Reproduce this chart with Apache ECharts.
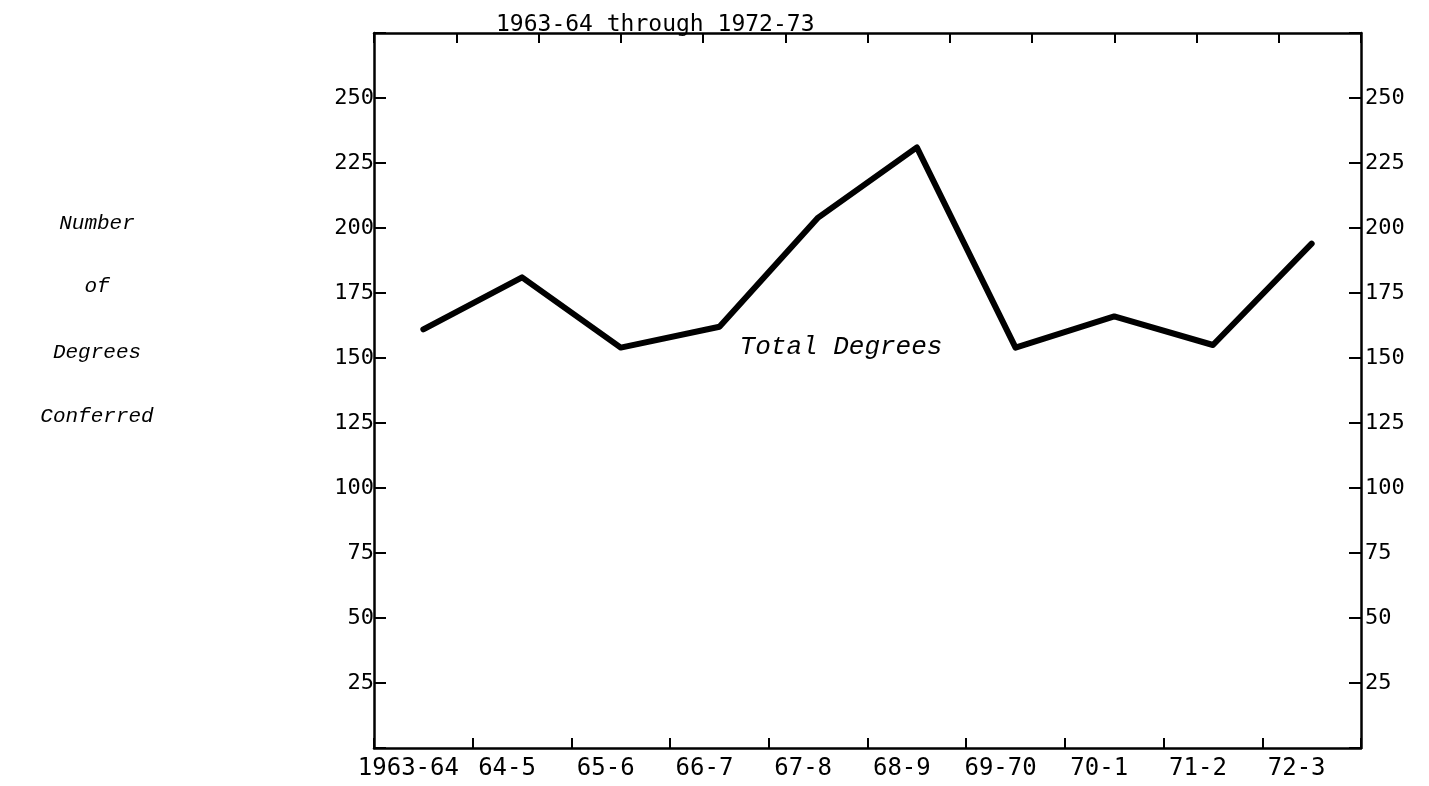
<!DOCTYPE html>
<html>
<head>
<meta charset="utf-8">
<script src="https://cdn.jsdelivr.net/npm/echarts@6/dist/echarts.min.js"></script>
<style>
html,body{margin:0;padding:0;background:#fff;}
#chart{width:1429px;height:786px;}
</style>
</head>
<body>
<div id="chart"></div>
<script>
const categories = ['1963-64','64-5','65-6','66-7','67-8','68-9','69-70','70-1','71-2','72-3'];
const totalDegrees = [161, 181, 154, 162, 204, 231, 154, 166, 155, 194];
const yTickValues = [25, 50, 75, 100, 125, 150, 175, 200, 225, 250];
const topDivisions = 12;
const titleText = '1963-64 through 1972-73';
const yTitleLines = ['Number', 'of', 'Degrees', 'Conferred'];
const seriesLabel = 'Total Degrees';

const chart = echarts.init(document.getElementById('chart'));
const monoFont = '"DejaVu Sans Mono", "Liberation Mono", monospace';
const italicFont = '"Liberation Mono", "Courier New", monospace';
const axisLine = {show: true, onZero: false, lineStyle: {color: '#000', width: 2.5}};
const tickStyle = {color: '#000', width: 2};

function yLabel(v) { return yTickValues.indexOf(v) >= 0 ? String(v) : ''; }

const yLineTops = [223, 286, 352, 416];

chart.setOption({
  animation: false,
  backgroundColor: '#fff',
  title: {
    text: titleText,
    left: 491,
    top: 9,
    textStyle: {fontFamily: monoFont, fontSize: 23, fontWeight: 'normal', color: '#000'}
  },
  grid: {left: 374, right: 68, top: 33, bottom: 38, containLabel: false},
  xAxis: [
    {
      type: 'category', data: categories, position: 'bottom', boundaryGap: true,
      axisLine: axisLine,
      axisTick: {show: true, inside: true, length: 10, lineStyle: tickStyle},
      axisLabel: {fontFamily: monoFont, fontSize: 24, color: '#000', margin: 9, interval: 0,
                  padding: [0, 30, 0, 0]},
      splitLine: {show: false}
    },
    {
      type: 'value', min: 0, max: topDivisions, interval: 1, position: 'top',
      axisLine: axisLine,
      axisTick: {show: true, inside: true, length: 10, lineStyle: tickStyle},
      axisLabel: {show: false},
      splitLine: {show: false}
    }
  ],
  yAxis: [
    {
      type: 'value', min: 0, max: 275, interval: 25, position: 'left',
      axisLine: axisLine,
      axisTick: {show: true, inside: true, length: 12, lineStyle: tickStyle},
      axisLabel: {fontFamily: monoFont, fontSize: 22, color: '#000', margin: 0, formatter: yLabel},
      splitLine: {show: false}
    },
    {
      type: 'value', min: 0, max: 275, interval: 25, position: 'right',
      axisLine: axisLine,
      axisTick: {show: true, inside: true, length: 12, lineStyle: tickStyle},
      axisLabel: {fontFamily: monoFont, fontSize: 22, color: '#000', margin: 4, formatter: yLabel},
      splitLine: {show: false}
    }
  ],
  graphic: yTitleLines.map((t, i) => ({
    type: 'text', x: 97, y: yLineTops[i],
    style: {text: t, fontFamily: italicFont, fontStyle: 'italic', fontSize: 21, fill: '#000',
            align: 'center', verticalAlign: 'middle'}
  })).concat([{
    type: 'text', x: 841, y: 347,
    style: {text: seriesLabel, fontFamily: italicFont, fontStyle: 'italic', fontSize: 26, fill: '#000',
            align: 'center', verticalAlign: 'middle'}
  }]),
  series: [{
    name: seriesLabel,
    type: 'line',
    xAxisIndex: 0, yAxisIndex: 0,
    data: totalDegrees,
    symbol: 'none',
    lineStyle: {color: '#000', width: 6, cap: 'round', join: 'round'}
  }]
});
</script>
</body>
</html>
